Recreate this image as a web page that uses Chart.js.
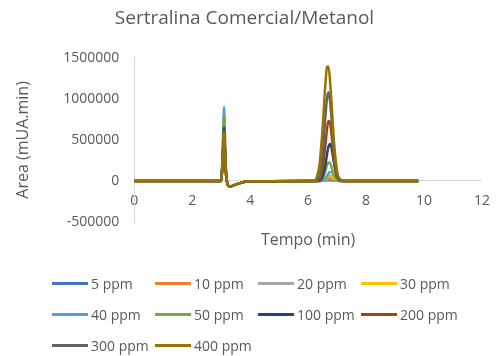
<!DOCTYPE html>
<html>
<head>
<meta charset="utf-8">
<script src="https://cdn.jsdelivr.net/npm/chart.js@4"></script>
<style>
  body { margin: 0; background: #fff; }
  #wrap { position: relative; width: 502px; height: 356px; }
  #legend {
    position: absolute; left: 52px; top: 268px;
    display: grid; grid-template-columns: repeat(4, 103px); grid-auto-rows: 31px;
    font: 14px "Open Sans", sans-serif; color: #595959;
  }
  .item { display: flex; align-items: center; white-space: nowrap; }
  .swatch { width: 36px; height: 2.5px; margin-right: 3px; }
</style>
</head>
<body>
<div id="wrap">
  <canvas id="chart" width="502" height="356"></canvas>
  <div id="legend"></div>
</div>
<script>
// retention time grid (min), shared by every run
const times = [0, 3.0, 3.05, 3.1, 3.15, 3.2, 3.3, 3.45, 3.7, 4.0, 6.2,
               6.3, 6.4, 6.5, 6.6, 6.65, 6.7, 6.75, 6.8, 6.9, 7.0, 7.1, 7.25, 7.5, 9.8];

const seriesNames = ['5 ppm', '10 ppm', '20 ppm', '30 ppm', '40 ppm', '50 ppm', '100 ppm', '200 ppm', '300 ppm', '400 ppm'];
const seriesColors = ['#4472C4', '#ED7D31', '#A5A5A5', '#FFC000', '#5B9BD5', '#70AD47', '#264478', '#9E480E', '#636363', '#997300'];

// area signal (mUA.min) at each time in `times`
const ppm5 = [0, 0, 220000, 550000, 165000, -10000, -70000, -50000, -20000, -5000, 0,
              0, 0, 1000, 5000, 7000, 9000, 10000, 9000, 5000, 1000, 0, 0, 0, 0];
const ppm10 = [0, 0, 208000, 520000, 156000, -10000, -70000, -50000, -20000, -5000, 0,
               0, 0, 3000, 11000, 18000, 23000, 25000, 23000, 11000, 3000, 0, 0, 0, 0];
const ppm20 = [0, 0, 224000, 560000, 168000, -10000, -70000, -50000, -20000, -5000, 0,
               0, 1000, 5000, 21000, 32000, 41000, 45000, 41000, 21000, 5000, 1000, 0, 0, 0];
const ppm30 = [0, 0, 232000, 580000, 174000, -10000, -70000, -50000, -20000, -5000, 0,
               0, 1000, 8000, 32000, 50000, 64000, 70000, 64000, 32000, 8000, 1000, 0, 0, 0];
const ppm40 = [0, 0, 360000, 900000, 270000, -10000, -70000, -50000, -20000, -5000, 0,
               0, 0, 7000, 36000, 61000, 88000, 107000, 109000, 67000, 21000, 3000, 0, 0, 0];
const ppm50 = [0, 0, 320000, 800000, 240000, -10000, -70000, -50000, -20000, -5000, 0,
               0, 3000, 31000, 127000, 188000, 225000, 221000, 177000, 60000, 9000, 1000, 0, 0, 0];
const ppm100 = [0, 0, 260000, 650000, 195000, -10000, -70000, -50000, -20000, -5000, 0,
                0, 6000, 51000, 206000, 320000, 413000, 450000, 413000, 206000, 51000, 6000, 0, 0, 0];
const ppm200 = [0, 0, 232000, 580000, 174000, -10000, -70000, -50000, -20000, -5000, 0,
                2000, 21000, 138000, 450000, 625000, 730000, 718000, 594000, 240000, 49000, 5000, 0, 0, 0];
const ppm300 = [0, 0, 236000, 590000, 177000, -10000, -70000, -50000, -20000, -5000, 0,
                10000, 75000, 330000, 800000, 1000000, 1080000, 1000000, 800000, 330000, 75000, 10000, 0, 0, 0];
const ppm400 = [0, 0, 240000, 600000, 180000, -10000, -70000, -50000, -20000, -5000, 0,
                45000, 217000, 645000, 1200000, 1385000, 1395000, 1250000, 995000, 445000, 123000, 21000, 2000, 0, 0];

const seriesValues = [ppm5, ppm10, ppm20, ppm30, ppm40, ppm50, ppm100, ppm200, ppm300, ppm400];

const xTicks = [0, 2, 4, 6, 8, 10, 12];
const yTicks = [-500000, 0, 500000, 1000000, 1500000];

const grey = '#595959';
const axisLine = '#d9d9d9';
const font = 'Open Sans';

const datasets = seriesNames.map((name, i) => ({
  label: name,
  data: times.map((t, j) => ({ x: t, y: seriesValues[i][j] })),
  borderColor: seriesColors[i],
  backgroundColor: seriesColors[i],
  borderWidth: 2.5,
  pointRadius: 0,
  cubicInterpolationMode: 'monotone',
  // later concentrations sit on top
  order: seriesNames.length - i
}));

new Chart(document.getElementById('chart'), {
  type: 'line',
  data: { datasets },
  options: {
    responsive: false,
    animation: false,
    layout: { padding: { left: 0, right: 13, top: 0, bottom: 134 } },
    plugins: {
      legend: { display: false },
      tooltip: { enabled: false },
      title: {
        display: true,
        text: 'Sertralina Comercial/Metanol',
        color: grey,
        font: { family: font, size: 19, weight: 'normal' },
        padding: { top: 7, bottom: 28 }
      }
    },
    scales: {
      x: {
        type: 'linear',
        position: { y: 0 },
        min: xTicks[0],
        max: xTicks[xTicks.length - 1],
        afterBuildTicks: (s) => { s.ticks = xTicks.map(v => ({ value: v })); },
        grid: { display: false, drawTicks: false },
        border: { display: true, color: axisLine, width: 1 },
        ticks: { color: grey, padding: 12, maxRotation: 0, font: { family: font, size: 14 } },
        title: {
          display: true, text: 'Tempo (min)', color: grey,
          font: { family: font, size: 16 }, padding: { top: 9, bottom: 0 }
        }
      },
      y: {
        min: yTicks[0],
        max: yTicks[yTicks.length - 1],
        afterBuildTicks: (s) => { s.ticks = yTicks.map(v => ({ value: v })); },
        grid: { display: false, drawTicks: false },
        border: { display: true, color: axisLine, width: 1 },
        ticks: { color: grey, padding: 15, font: { family: font, size: 14 }, callback: v => String(v) },
        title: {
          display: true, text: 'Area (mUA.min)', color: grey,
          font: { family: font, size: 16 }, padding: { top: 14, bottom: 15 }
        }
      }
    }
  }
});

// legend laid out as a fixed 4-column grid
const legend = document.getElementById('legend');
seriesNames.forEach((name, i) => {
  const item = document.createElement('div');
  item.className = 'item';
  item.innerHTML = '<span class="swatch" style="background:' + seriesColors[i] + '"></span>' + name;
  legend.appendChild(item);
});
</script>
</body>
</html>
